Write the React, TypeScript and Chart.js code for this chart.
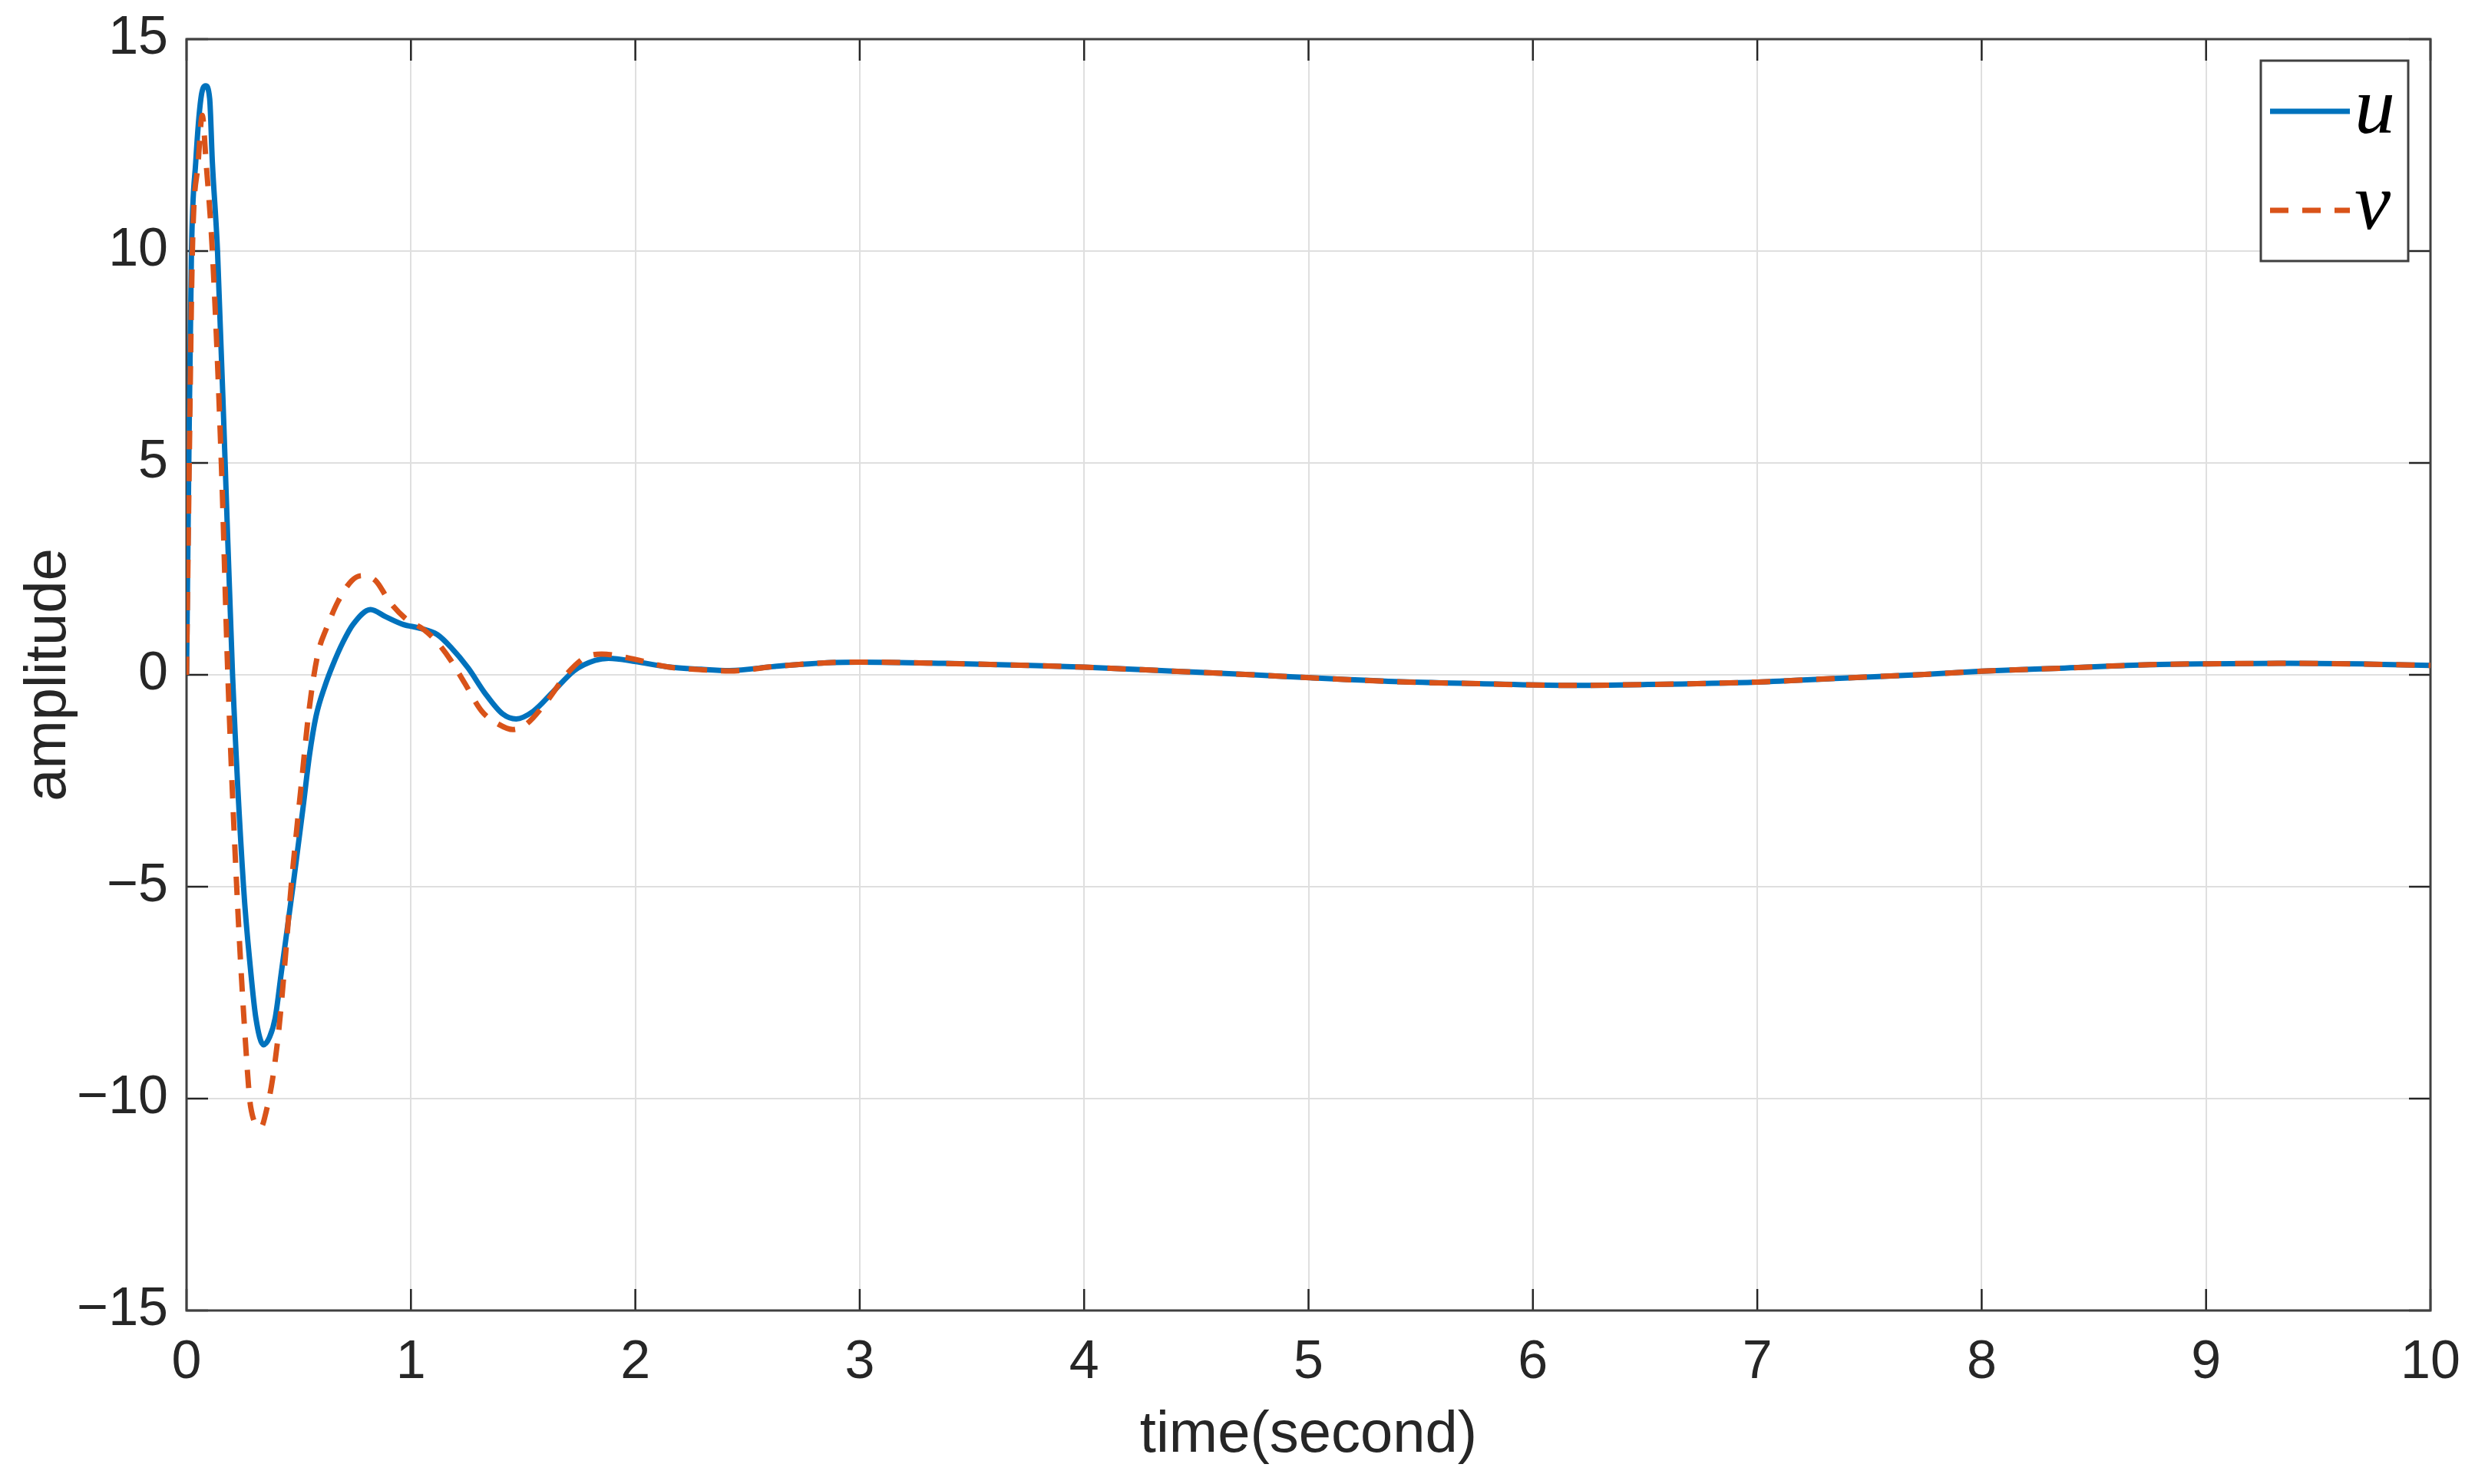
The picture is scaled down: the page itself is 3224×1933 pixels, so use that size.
import React, { useEffect, useRef } from "react";
import { Chart, registerables } from "chart.js";
Chart.register(...registerables);

// ---- data ----
const timeU = [0, 0.01, 0.022, 0.041, 0.064, 0.085, 0.103, 0.115, 0.138, 0.172, 0.205, 0.254, 0.286, 0.309, 0.343, 0.37, 0.395, 0.423, 0.474, 0.52, 0.548, 0.577, 0.617, 0.651, 0.697, 0.742, 0.82, 0.888, 0.965, 1.04, 1.117, 1.178, 1.255, 1.331, 1.408, 1.469, 1.545, 1.637, 1.728, 1.82, 1.881, 2.003, 2.141, 2.294, 2.42, 2.624, 2.875, 3.0, 3.377, 3.753, 4.0, 4.38, 4.757, 5.008, 5.384, 5.76, 6.15, 6.49, 7.0, 7.368, 7.745, 8.0, 8.37, 8.75, 9.0, 9.375, 9.75, 10];
const valuesU = [0, 5, 10, 12.1, 13.6, 13.9, 13.6, 12.1, 10, 5, 0, -5, -7.0, -8.1, -8.73, -8.55, -8.1, -7.0, -5, -3.1, -1.89, -0.98, -0.26, 0.22, 0.77, 1.19, 1.54, 1.37, 1.19, 1.1, 0.95, 0.65, 0.16, -0.44, -0.92, -1.04, -0.86, -0.38, 0.1, 0.34, 0.39, 0.31, 0.19, 0.13, 0.1, 0.2, 0.29, 0.3, 0.27, 0.22, 0.18, 0.09, 0.0, -0.07, -0.16, -0.21, -0.25, -0.23, -0.17, -0.08, 0.01, 0.085, 0.16, 0.24, 0.26, 0.27, 0.25, 0.22];

const timeV = [0, 0.012, 0.026, 0.052, 0.07, 0.087, 0.115, 0.155, 0.184, 0.2235, 0.263, 0.286, 0.332, 0.355, 0.383, 0.412, 0.44, 0.466, 0.49, 0.515, 0.54, 0.565, 0.59, 0.62, 0.675, 0.736, 0.781, 0.843, 0.904, 0.98, 1.057, 1.117, 1.178, 1.24, 1.316, 1.392, 1.454, 1.515, 1.606, 1.698, 1.774, 1.85, 2.003, 2.141, 2.294, 2.42, 2.624, 2.875, 3.0, 3.377, 3.753, 4.0, 4.38, 4.757, 5.008, 5.384, 5.76, 6.15, 6.49, 7.0, 7.368, 7.745, 8.0, 8.37, 8.75, 9.0, 9.375, 9.75, 10];
const valuesV = [0, 5, 10, 12.1, 13.2, 12.1, 10, 5, 0, -5, -8.7, -10.2, -10.67, -10.3, -9.55, -8.34, -6.69, -5, -3.7, -2.4, -1.1, -0.1, 0.6, 1.05, 1.73, 2.22, 2.34, 2.22, 1.73, 1.31, 1.07, 0.77, 0.34, -0.2, -0.86, -1.17, -1.29, -1.16, -0.62, 0.04, 0.4, 0.49, 0.36, 0.19, 0.12, 0.09, 0.2, 0.29, 0.3, 0.27, 0.22, 0.18, 0.09, 0.0, -0.07, -0.16, -0.21, -0.25, -0.23, -0.17, -0.08, 0.01, 0.085, 0.16, 0.24, 0.26, 0.27, 0.25, 0.22];

const seriesLabels = ["u", "v"];
const xRange = [0, 10];
const yRange = [-15, 15];
const xStep = 1;
const yStep = 5;
const xTitle = "time(second)";
const yTitle = "amplitude";

const W = 3224;
const H = 1933;

const frame = {
  id: "matlabFrame",
  beforeDatasetsDraw(chart: any) {
    const { ctx, chartArea } = chart;
    const { left, right, top, bottom } = chartArea;
    const xs = chart.scales.x;
    const ys = chart.scales.y;
    const tl = 28;
    ctx.save();
    ctx.strokeStyle = "#262626";
    ctx.lineWidth = 2.5;
    ctx.beginPath();
    xs.ticks.forEach((t: any) => {
      const px = xs.getPixelForValue(t.value);
      ctx.moveTo(px, bottom);
      ctx.lineTo(px, bottom - tl);
      ctx.moveTo(px, top);
      ctx.lineTo(px, top + tl);
    });
    ys.ticks.forEach((t: any) => {
      const py = ys.getPixelForValue(t.value);
      ctx.moveTo(left, py);
      ctx.lineTo(left + tl, py);
      ctx.moveTo(right, py);
      ctx.lineTo(right - tl, py);
    });
    ctx.stroke();
    ctx.strokeStyle = "#404040";
    ctx.lineWidth = 3;
    ctx.strokeRect(left, top, right - left, bottom - top);
    ctx.restore();
  },
};

const mathLegend = {
  id: "mathLegend",
  afterDraw(chart: any) {
    const { ctx, chartArea } = chart;
    const bx = chartArea.right - 221;
    const by = chartArea.top + 28;
    const bw = 192;
    const bh = 261;
    ctx.save();
    ctx.fillStyle = "#ffffff";
    ctx.fillRect(bx, by, bw, bh);
    ctx.strokeStyle = "#404040";
    ctx.lineWidth = 3;
    ctx.strokeRect(bx, by, bw, bh);
    const rows = [66, 195];
    const textRows = [94, 219];
    chart.data.datasets.forEach((ds: any, i: number) => {
      const y = by + rows[i];
      ctx.strokeStyle = ds.borderColor;
      ctx.lineWidth = ds.borderWidth;
      ctx.setLineDash(ds.borderDash || []);
      ctx.beginPath();
      ctx.moveTo(bx + 12, y);
      ctx.lineTo(bx + 116, y);
      ctx.stroke();
      ctx.setLineDash([]);
      ctx.fillStyle = "#000000";
      ctx.font = 'italic 106px "Liberation Serif"';
      ctx.textAlign = "left";
      ctx.textBaseline = "alphabetic";
      ctx.fillText(ds.label, bx + 122, by + textRows[i]);
    });
    ctx.restore();
  },
};

const minus = (v: number) => String(v).replace("-", "\u2212");

export default function App() {
  const ref = useRef<HTMLCanvasElement>(null);
  useEffect(() => {
    const canvas = ref.current!;
    const chart = new Chart(canvas, {
      type: "line",
      data: {
        datasets: [
          {
            label: seriesLabels[0],
            data: timeU.map((t, i) => ({ x: t, y: valuesU[i] })),
            borderColor: "#0072BD",
            backgroundColor: "#0072BD",
            borderWidth: 7,
            pointRadius: 0,
            cubicInterpolationMode: "monotone",
            fill: false,
            order: 1,
          },
          {
            label: seriesLabels[1],
            data: timeV.map((t, i) => ({ x: t, y: valuesV[i] })),
            borderColor: "#D95319",
            backgroundColor: "#D95319",
            borderWidth: 7,
            borderDash: [24, 18],
            pointRadius: 0,
            cubicInterpolationMode: "monotone",
            fill: false,
            order: 0,
          },
        ],
      },
      options: {
        animation: false,
        responsive: false,
        devicePixelRatio: 1,
        layout: { padding: { left: 0, top: 51, right: 58, bottom: 0 } },
        plugins: {
          legend: { display: false },
          tooltip: { enabled: false },
        },
        scales: {
          x: {
            type: "linear",
            min: xRange[0],
            max: xRange[1],
            afterFit: (s: any) => {
              s.height = 226;
              s.paddingLeft = 0;
              s.paddingRight = 0;
            },
            ticks: {
              stepSize: xStep,
              padding: 27,
              color: "#262626",
              font: { family: "Liberation Sans", size: 70, lineHeight: 1.2 },
              callback: (v: any) => minus(v),
              maxRotation: 0,
            },
            grid: { color: "#dfdfdf", lineWidth: 2, drawTicks: false },
            border: { display: false },
            title: {
              display: true,
              text: xTitle,
              color: "#262626",
              font: { family: "Liberation Sans", size: 76, lineHeight: 1.2 },
              padding: { top: 0, bottom: 17 },
            },
          },
          y: {
            type: "linear",
            min: yRange[0],
            max: yRange[1],
            afterFit: (s: any) => {
              s.width = 243;
              s.paddingTop = 0;
              s.paddingBottom = 0;
            },
            ticks: {
              stepSize: yStep,
              padding: 24,
              color: "#262626",
              font: { family: "Liberation Sans", size: 70, lineHeight: 1.2 },
              callback: (v: any) => minus(v),
            },
            grid: { color: "#dfdfdf", lineWidth: 2, drawTicks: false },
            border: { display: false },
            title: {
              display: true,
              text: yTitle,
              color: "#262626",
              font: { family: "Liberation Sans", size: 76, lineHeight: 1.2 },
              padding: { top: 18, bottom: 0 },
            },
          },
        },
      },
      plugins: [frame, mathLegend],
    } as any);
    return () => chart.destroy();
  }, []);
  return (
    <div style={{ position: "fixed", left: 0, top: 0, width: W, height: H, background: "#ffffff" }}>
      <canvas ref={ref} width={W} height={H} style={{ display: "block", width: W, height: H }} />
    </div>
  );
}
